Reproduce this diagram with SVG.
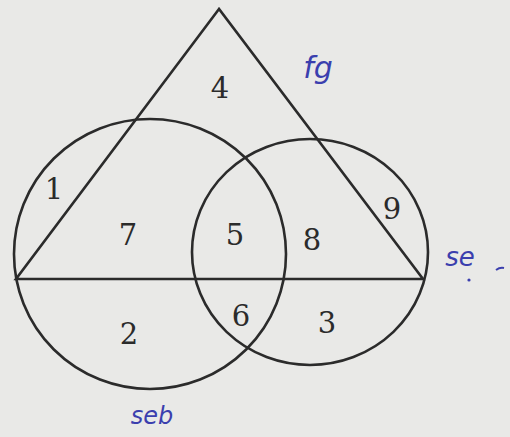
<svg xmlns="http://www.w3.org/2000/svg" width="510" height="437" viewBox="0 0 510 437">
<style>
.shape{fill:none;stroke:#2b2b2b;stroke-width:2.6}
.num{font-family:"DejaVu Serif","Liberation Serif",serif;font-size:29px;fill:#2b2b2b;text-anchor:middle}
.hand{font-family:"DejaVu Sans","Liberation Sans",sans-serif;font-style:italic;fill:#3b3fae;text-anchor:middle}
</style>
<rect width="510" height="437" fill="#e9e9e7"/>
<g id="triangle"><polygon class="shape" points="219,9 16,279 423,279"/></g>
<g id="circle-left"><ellipse class="shape" cx="150" cy="254" rx="136" ry="135"/></g>
<g id="circle-right"><ellipse class="shape" cx="310" cy="252" rx="118" ry="113"/></g>
<g id="labels">
<text class="num" x="220" y="98">4</text>
<text class="num" x="54" y="199">1</text>
<text class="num" x="392" y="219">9</text>
<text class="num" x="128" y="245">7</text>
<text class="num" x="235" y="245">5</text>
<text class="num" x="312" y="250">8</text>
<text class="num" x="129" y="344">2</text>
<text class="num" x="241" y="326">6</text>
<text class="num" x="327" y="333">3</text>
</g>
<g id="annotations">
<text class="hand" x="318" y="78" font-size="30">fg</text>
<text class="hand" x="460" y="266" font-size="26">se</text>
<text class="hand" x="152" y="424" font-size="24">seb</text>
<path d="M496,270 q4,-3 8,-2" fill="none" stroke="#3b3fae" stroke-width="2"/>
<circle cx="469" cy="280" r="1.6" fill="#3b3fae"/>
</g>
</svg>
